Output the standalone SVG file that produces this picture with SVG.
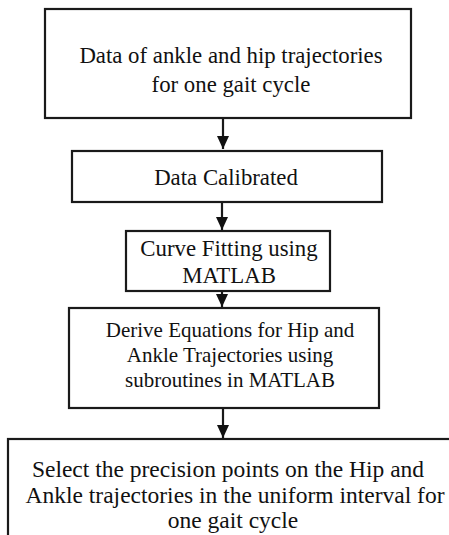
<svg xmlns="http://www.w3.org/2000/svg" width="449" height="535" viewBox="0 0 449 535">
<defs>
<style>
.box{fill:#fff;stroke:#1a1a1a;stroke-width:2.2}
.t{font-family:"Liberation Serif","Times New Roman",serif;fill:#111;text-anchor:middle}
.c{stroke:#1a1a1a;stroke-width:2.2;fill:none}
</style>
<marker id="ah" markerWidth="13" markerHeight="12" refX="13" refY="6" orient="auto" markerUnits="userSpaceOnUse" viewBox="0 0 13 12">
<path d="M0,0 L13,6 L0,12 Z" fill="#111"/>
</marker>
</defs>
<rect width="449" height="535" fill="#fff"/>
<g id="connectors">
<line class="c" x1="223" y1="118" x2="223" y2="149" marker-end="url(#ah)"/>
<line class="c" x1="222" y1="202" x2="222" y2="230" marker-end="url(#ah)"/>
<line class="c" x1="222" y1="291" x2="222" y2="307" marker-end="url(#ah)"/>
<line class="c" x1="223" y1="408" x2="223" y2="438" marker-end="url(#ah)"/>
</g>
<g id="node1">
<rect class="box" x="45" y="9" width="366" height="109"/>
<text class="t" font-size="22.8" x="231" y="63">Data of ankle and hip trajectories</text>
<text class="t" font-size="22.8" x="231" y="92">for one gait cycle</text>
</g>
<g id="node2">
<rect class="box" x="72" y="151" width="310" height="51"/>
<text class="t" font-size="22.8" x="226" y="185">Data Calibrated</text>
</g>
<g id="node3">
<rect class="box" x="126" y="231" width="204" height="60"/>
<text class="t" font-size="22.8" x="229" y="256">Curve Fitting using</text>
<text class="t" font-size="22.8" x="229" y="283">MATLAB</text>
</g>
<g id="node4">
<rect class="box" x="69" y="308" width="310" height="100"/>
<text class="t" font-size="21" x="230" y="337">Derive Equations for Hip and</text>
<text class="t" font-size="21" x="230" y="362">Ankle Trajectories using</text>
<text class="t" font-size="21" x="230" y="387">subroutines in MATLAB</text>
</g>
<g id="node5">
<rect class="box" x="8" y="439" width="460" height="120"/>
<text class="t" font-size="23.5" x="228" y="477">Select the precision points on the Hip and</text>
<text class="t" font-size="23.5" x="235" y="503">Ankle trajectories in the uniform interval for</text>
<text class="t" font-size="23.5" x="233" y="528">one gait cycle</text>
</g>
</svg>
